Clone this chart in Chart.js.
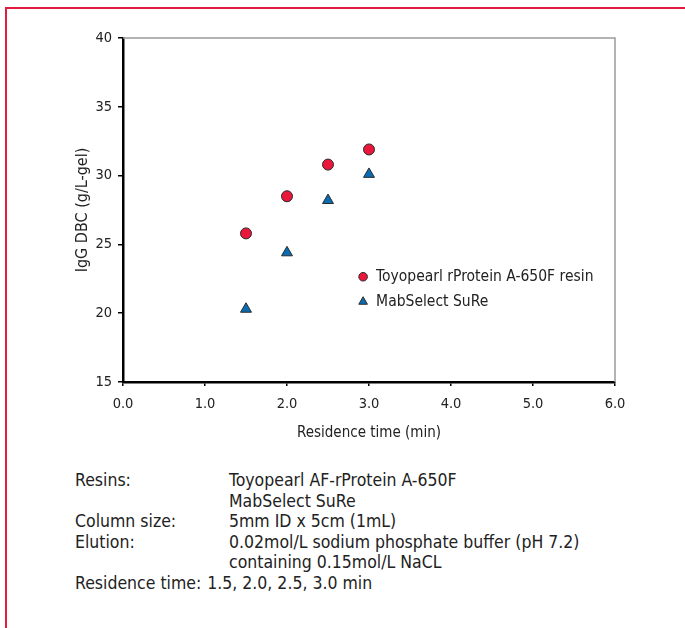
<!DOCTYPE html>
<html><head><meta charset="utf-8">
<script src="https://cdn.jsdelivr.net/npm/chart.js@4.4.0/dist/chart.umd.min.js"></script>
<style>
html,body{margin:0;padding:0;background:#fff;width:685px;height:628px;overflow:hidden;font-family:'DejaVu Sans Condensed','Liberation Sans',sans-serif;color:#222;}
#frame{position:absolute;left:5px;top:7px;width:720px;height:700px;border:2px solid #e31b3c;box-sizing:border-box;}
#wrap{position:absolute;left:0;top:0;width:685px;height:442px;}
#notes{position:absolute;left:75px;top:470px;font-size:17.5px;line-height:20.6px;color:#222;}
.row{display:flex;white-space:nowrap}
.k{width:154px}
.k2{margin-right:6px}
</style></head>
<body>
<div id="frame"></div>
<div id="wrap"><canvas id="c"></canvas></div>
<div id="notes">
<div class="row"><div class="k">Resins:</div><div>Toyopearl AF-rProtein A-650F</div></div>
<div class="row"><div class="k"></div><div>MabSelect SuRe</div></div>
<div class="row"><div class="k">Column size:</div><div>5mm ID x 5cm (1mL)</div></div>
<div class="row"><div class="k">Elution:</div><div>0.02mol/L sodium phosphate buffer (pH 7.2)</div></div>
<div class="row"><div class="k"></div><div>containing 0.15mol/L NaCL</div></div>
<div class="row"><div class="k2">Residence time:</div><div>1.5, 2.0, 2.5, 3.0 min</div></div>
</div>
<script>
const residenceTimes = [1.5, 2.0, 2.5, 3.0];
const toyopearlDBC = [25.8, 28.5, 30.8, 31.9];
const mabselectDBC = [20.3, 24.4, 28.2, 30.1];
const seriesNames = ['Toyopearl rProtein A-650F resin', 'MabSelect SuRe'];
const xAxisTitle = 'Residence time (min)';
const yAxisTitle = 'IgG DBC (g/L-gel)';

const RED = '#e8173b', BLUE = '#0a6db3', EDGE = '#2a2a2a';
const FONT = "'DejaVu Sans Condensed','Liberation Sans',sans-serif";

const frameAndLegend = {
  id: 'frameAndLegend',
  beforeDatasetsDraw(chart) {
    const {ctx, chartArea: a} = chart;
    ctx.save();
    ctx.strokeStyle = '#9a9a9a';
    ctx.lineWidth = 1.5;
    ctx.beginPath();
    ctx.moveTo(a.left, a.top); ctx.lineTo(a.right, a.top); ctx.lineTo(a.right, a.bottom);
    ctx.stroke();
    ctx.restore();
  },
  afterDraw(chart) {
    const {ctx, chartArea: a} = chart;
    const lx = a.left + (a.right - a.left) * 0.488;
    const ly0 = a.top + (a.bottom - a.top) * 0.694;
    const dy = 25;
    ctx.save();
    ctx.font = '15.5px ' + FONT;
    ctx.textBaseline = 'middle';
    ctx.beginPath(); ctx.arc(lx, ly0, 4.3, 0, Math.PI * 2);
    ctx.fillStyle = RED; ctx.fill(); ctx.lineWidth = 1; ctx.strokeStyle = EDGE; ctx.stroke();
    const ty = ly0 + dy, r = 5;
    ctx.beginPath();
    ctx.moveTo(lx, ty - r);
    ctx.lineTo(lx + r * 0.866, ty + r * 0.5);
    ctx.lineTo(lx - r * 0.866, ty + r * 0.5);
    ctx.closePath();
    ctx.fillStyle = BLUE; ctx.fill(); ctx.stroke();
    ctx.fillStyle = '#222';
    ctx.fillText(seriesNames[0], lx + 13, ly0);
    ctx.fillText(seriesNames[1], lx + 13, ty);
    ctx.restore();
  }
};

new Chart(document.getElementById('c'), {
  type: 'scatter',
  data: {
    datasets: [
      { label: seriesNames[0], data: residenceTimes.map((x, i) => ({x, y: toyopearlDBC[i]})),
        pointStyle: 'circle', pointRadius: 5.5, pointHoverRadius: 5.5,
        backgroundColor: RED, borderColor: EDGE, borderWidth: 1 },
      { label: seriesNames[1], data: residenceTimes.map((x, i) => ({x, y: mabselectDBC[i]})),
        pointStyle: 'triangle', pointRadius: 6.3, pointHoverRadius: 6.3,
        backgroundColor: BLUE, borderColor: EDGE, borderWidth: 1 }
    ]
  },
  options: {
    responsive: true, maintainAspectRatio: false, animation: false,
    layout: { padding: { left: 73, top: 38, right: 70, bottom: 0 } },
    plugins: { legend: { display: false }, tooltip: { enabled: false } },
    scales: {
      x: {
        type: 'linear', min: 0, max: 6,
        afterFit(s) { s.height = 60; },
        ticks: { stepSize: 1, callback: v => Number(v).toFixed(1), color: '#222', font: { family: FONT, size: 14.5 }, padding: 10, maxRotation: 0 },
        grid: { drawOnChartArea: false, color: '#000', tickLength: 4, lineWidth: 1.5 },
        border: { color: '#000', width: 2.5 },
        title: { display: true, text: xAxisTitle, color: '#222', font: { family: FONT, size: 15 }, padding: 0 }
      },
      y: {
        min: 15, max: 40,
        afterFit(s) { s.width = 50; },
        ticks: { stepSize: 5, color: '#222', font: { family: FONT, size: 14.5 }, padding: 6 },
        grid: { drawOnChartArea: false, color: '#000', tickLength: 5, lineWidth: 1.5 },
        border: { color: '#000', width: 2.5 },
        title: { display: true, text: yAxisTitle, color: '#222', font: { family: FONT, size: 16 }, padding: 0 }
      }
    }
  },
  plugins: [frameAndLegend]
});
</script>
</body></html>
